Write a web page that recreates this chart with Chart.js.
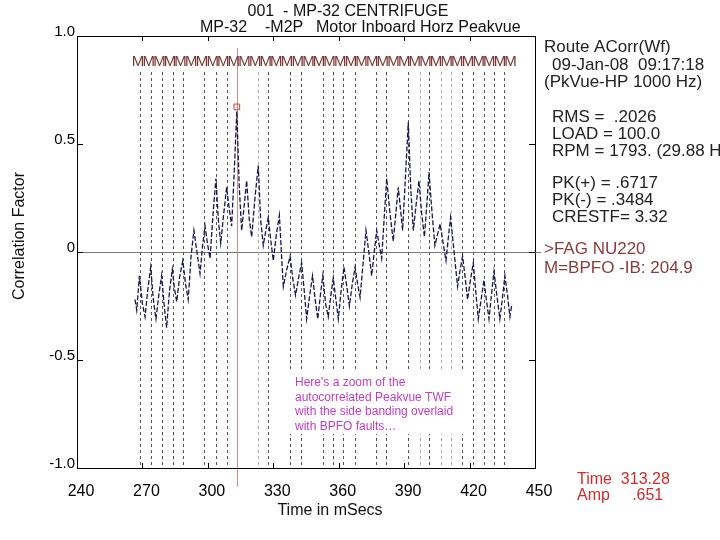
<!DOCTYPE html>
<html>
<head>
<meta charset="utf-8">
<script src="https://cdn.jsdelivr.net/npm/chart.js@4/dist/chart.umd.min.js"></script>
<style>
  body { margin: 0; background: #fff; }
  canvas { display: block; }
</style>
</head>
<body>
<canvas id="acorrChart" width="720" height="540"></canvas>
<script>
// Données (ms / facteur de corrélation)
const waveTime = [
  266.6, 267.4, 268.6, 270.0, 271.2, 272.4, 273.8, 275.0, 276.2, 277.5, 278.8, 280.0, 281.1, 282.4,
  283.7, 284.7, 285.7, 287.0, 288.5, 289.8, 291.0, 292.3, 293.6, 295.0, 296.4, 297.6, 298.7, 299.8,
  301.0, 302.4, 303.7, 304.8, 305.9, 307.2, 308.6, 309.8, 310.9, 312.0, 313.28, 314.4, 315.5, 316.7,
  317.8, 319.0, 320.1, 321.6, 323.1, 324.2, 325.4, 326.6, 327.7, 328.9, 330.0, 331.4, 332.8, 333.7,
  334.6, 336.2, 337.7, 338.9, 340.2, 341.6, 343.0, 344.2, 345.3, 346.7, 348.0, 349.2, 350.4, 351.6,
  352.7, 354.0, 355.2, 356.4, 357.5, 358.7, 359.8, 361.1, 362.4, 363.7, 364.9, 366.2, 367.5, 368.7,
  369.8, 371.2, 372.5, 373.8, 375.1, 376.3, 377.4, 378.6, 379.7, 380.8, 382.0, 383.5, 385.0, 386.2,
  387.3, 388.3, 389.3, 390.6, 391.9, 393.0, 394.2, 395.5, 396.8, 398.0, 399.3, 400.4, 401.4, 402.8,
  404.1, 405.3, 406.5, 407.9, 409.2, 410.2, 411.3, 412.9, 414.5, 415.7, 416.8, 418.0, 419.1, 420.4,
  421.7, 422.8, 424.0, 425.3, 426.6, 427.7, 428.9, 430.0, 431.2, 432.5, 433.9, 435.0, 436.2, 437.4,
  438.5, 439.4
];
const waveAmp = [
  -0.22, -0.27, -0.11, -0.24, -0.30, -0.18, -0.07, -0.22, -0.31, -0.20, -0.11, -0.25, -0.35, -0.18,
  -0.08, -0.17, -0.23, -0.12, -0.04, -0.15, -0.22, -0.02, 0.10, 0.00, -0.10, 0.03, 0.12, 0.04,
  -0.03, 0.18, 0.34, 0.15, 0.04, 0.17, 0.30, 0.20, 0.12, 0.35, 0.651, 0.30, 0.10, 0.22,
  0.33, 0.15, 0.07, 0.25, 0.40, 0.15, 0.03, 0.10, 0.16, 0.05, -0.04, 0.08, 0.17, 0.00,
  -0.16, -0.08, -0.02, -0.12, -0.20, -0.12, -0.05, -0.18, -0.31, -0.20, -0.11, -0.22, -0.31, -0.20,
  -0.11, -0.24, -0.30, -0.20, -0.12, -0.22, -0.31, -0.18, -0.07, -0.16, -0.25, -0.15, -0.07, -0.15,
  -0.21, -0.05, 0.10, 0.00, -0.11, 0.00, 0.10, 0.03, -0.03, 0.15, 0.34, 0.18, 0.05, 0.18,
  0.30, 0.20, 0.10, 0.35, 0.60, 0.30, 0.10, 0.22, 0.33, 0.18, 0.07, 0.22, 0.37, 0.18,
  0.03, 0.08, 0.13, 0.04, -0.04, 0.06, 0.16, 0.00, -0.16, -0.08, -0.02, -0.12, -0.22, -0.13,
  -0.05, -0.18, -0.31, -0.22, -0.13, -0.22, -0.31, -0.20, -0.09, -0.20, -0.31, -0.22, -0.11, -0.20,
  -0.30, -0.24
];

// lignes de défaut BPFO (pointillés foncés / clairs)
const bpfoLines = [268.9, 273.9, 279.0, 284.0, 288.6, 298.2, 303.7, 308.8, 327.6, 337.7, 342.7, 352.8,
  357.4, 362.0, 367.5, 377.1, 381.7, 391.8, 401.4, 416.5, 421.6, 426.6, 431.2, 435.8];
const lightLines = [323.0, 397.3, 406.7, 411.5];

// marqueurs "M" en haut
const markTimes = [268.0, 272.9, 277.8, 282.6, 287.5, 292.4, 297.3, 302.2, 307.0, 311.9, 316.8, 321.7,
  326.6, 331.4, 336.3, 341.2, 346.1, 351.0, 355.8, 360.7, 365.6, 370.5, 375.4, 380.2, 385.1, 390.0,
  394.9, 399.8, 404.6, 409.5, 414.4, 419.3, 424.2, 429.0, 433.9, 438.8];

const cursorTime = 313.28;
const cursorPeak = 0.6717;
const xTicks = [240, 270, 300, 330, 360, 390, 420, 450];
const yTicks = [-1.0, -0.5, 0, 0.5, 1.0];

const FONT = '"Liberation Sans", Arial, sans-serif';

const decorPlugin = {
  id: 'decor',
  beforeDatasetsDraw(chart) {
    const { ctx, chartArea: a, scales: { x } } = chart;
    ctx.save();
    ctx.lineWidth = 1;
    ctx.setLineDash([3, 3]);
    ctx.strokeStyle = '#555';
    bpfoLines.forEach(t => {
      const px = Math.round(x.getPixelForValue(t)) + 0.5;
      ctx.beginPath(); ctx.moveTo(px, 72); ctx.lineTo(px, a.bottom); ctx.stroke();
    });
    ctx.strokeStyle = '#aaa';
    lightLines.forEach(t => {
      const px = Math.round(x.getPixelForValue(t)) + 0.5;
      ctx.beginPath(); ctx.moveTo(px, 72); ctx.lineTo(px, a.bottom); ctx.stroke();
    });
    ctx.setLineDash([]);
    // curseur
    ctx.strokeStyle = '#d88a8a';
    const cx = Math.round(x.getPixelForValue(cursorTime)) + 0.5;
    ctx.beginPath(); ctx.moveTo(cx, 48); ctx.lineTo(cx, 487); ctx.stroke();
    // fond blanc sous le commentaire
    ctx.fillStyle = '#fff';
    ctx.fillRect(290, 372, 175, 62);
    ctx.restore();
  },
  afterDraw(chart) {
    const { ctx, chartArea: a, scales: { x, y } } = chart;
    ctx.save();
    // cadre
    ctx.strokeStyle = '#000';
    ctx.lineWidth = 1;
    ctx.strokeRect(a.left + 0.5, a.top + 0.5, a.right - a.left, a.bottom - a.top);
    // petites graduations vers l'intérieur
    ctx.beginPath();
    xTicks.slice(1, -1).forEach(v => {
      const px = Math.round(x.getPixelForValue(v)) + 0.5;
      ctx.moveTo(px, a.top); ctx.lineTo(px, a.top + 5);
      ctx.moveTo(px, a.bottom); ctx.lineTo(px, a.bottom - 5);
    });
    yTicks.slice(1, -1).forEach(v => {
      const py = Math.round(y.getPixelForValue(v)) + 0.5;
      ctx.moveTo(a.left, py); ctx.lineTo(a.left + 6, py);
      ctx.moveTo(a.right, py); ctx.lineTo(a.right - 6, py);
    });
    ctx.stroke();
    // la ligne zéro dépasse un peu à droite
    ctx.strokeStyle = '#777';
    const zy = Math.round(y.getPixelForValue(0)) + 0.5;
    ctx.beginPath(); ctx.moveTo(a.right, zy); ctx.lineTo(a.right + 6, zy); ctx.stroke();

    // rangée de M
    ctx.font = '15px ' + FONT;
    ctx.textAlign = 'center';
    ctx.textBaseline = 'middle';
    ctx.fillStyle = '#7a3535';
    markTimes.forEach(t => ctx.fillText('M', x.getPixelForValue(t), 62));

    // titres
    ctx.font = '16px ' + FONT;
    ctx.fillStyle = '#111';
    ctx.fillText('001  - MP-32 CENTRIFUGE', 348, 12);
    ctx.textAlign = 'left';
    ctx.fillText('MP-32', 200, 28);
    ctx.fillText('-M2P', 265, 28);
    ctx.fillText('Motor Inboard Horz Peakvue', 316, 28);

    // panneau de droite
    ctx.font = '17px ' + FONT;
    ctx.fillStyle = '#222';
    ctx.fillText('Route ACorr(Wf)', 544, 47);
    ctx.fillText('09-Jan-08  09:17:18', 552, 65);
    ctx.fillText('(PkVue-HP 1000 Hz)', 544, 82);
    ctx.fillText('RMS =  .2026', 552, 117);
    ctx.fillText('LOAD = 100.0', 552, 134);
    ctx.fillText('RPM = 1793. (29.88 Hz)', 552, 151);
    ctx.fillText('PK(+) = .6717', 552, 183);
    ctx.fillText('PK(-) = .3484', 552, 200);
    ctx.fillText('CRESTF= 3.32', 552, 217);
    ctx.fillStyle = '#8b3b3b';
    ctx.fillText('>FAG NU220', 544, 249);
    ctx.fillText('M=BPFO -IB: 204.9', 544, 268);
    ctx.font = '16px ' + FONT;
    ctx.fillStyle = '#d42a2a';
    ctx.fillText('Time  313.28', 577, 480);
    ctx.fillText('Amp     .651', 577, 496);

    // titres des axes
    ctx.fillStyle = '#111';
    ctx.textAlign = 'center';
    ctx.fillText('Time in mSecs', 330, 511);
    ctx.save();
    ctx.translate(20, 236);
    ctx.rotate(-Math.PI / 2);
    ctx.fillText('Correlation Factor', 0, 0);
    ctx.restore();

    // commentaire
    ctx.font = '12px ' + FONT;
    ctx.textAlign = 'left';
    ctx.fillStyle = '#c23cc2';
    ['Here\'s a zoom of the', 'autocorrelated Peakvue TWF', 'with the side banding overlaid', 'with BPFO faults…']
      .forEach((line, i) => ctx.fillText(line, 295, 383 + i * 14.5));
    ctx.restore();
  }
};

const ctx = document.getElementById('acorrChart').getContext('2d');
new Chart(ctx, {
  type: 'line',
  data: {
    datasets: [
      {
        data: waveTime.map((t, i) => ({ x: t, y: waveAmp[i] })),
        borderColor: '#15154f',
        borderWidth: 1.3,
        borderDash: [5, 2],
        pointRadius: 0,
        tension: 0
      },
      {
        type: 'scatter',
        data: [{ x: cursorTime, y: cursorPeak }],
        pointStyle: 'rect',
        pointRadius: 4,
        borderColor: '#d03a3a',
        backgroundColor: 'rgba(255,255,255,0)',
        borderWidth: 1
      }
    ]
  },
  options: {
    responsive: false,
    animation: false,
    layout: { padding: { left: 0, right: 185, top: 36, bottom: 0 } },
    plugins: { legend: { display: false }, tooltip: { enabled: false } },
    scales: {
      x: {
        type: 'linear',
        min: 240,
        max: 450,
        afterFit: s => { s.height = 72; },
        afterBuildTicks: s => { s.ticks = xTicks.map(v => ({ value: v })); },
        grid: { display: false },
        border: { color: '#000', width: 1 },
        ticks: { color: '#000', font: { size: 16, family: FONT }, padding: 6, labelOffset: 4, maxRotation: 0 }
      },
      y: {
        min: -1,
        max: 1,
        afterFit: s => { s.width = 77; },
        afterBuildTicks: s => { s.ticks = yTicks.map(v => ({ value: v })); },
        grid: {
          drawTicks: false,
          color: c => (c.tick && c.tick.value === 0 ? '#777' : 'rgba(0,0,0,0)')
        },
        border: { color: '#000', width: 1 },
        ticks: {
          color: '#000',
          font: { size: 15, family: FONT },
          padding: 2,
          labelOffset: -4,
          callback: v => (v === 0 ? '0' : v.toFixed(1))
        }
      }
    }
  },
  plugins: [decorPlugin]
});
</script>
</body>
</html>
